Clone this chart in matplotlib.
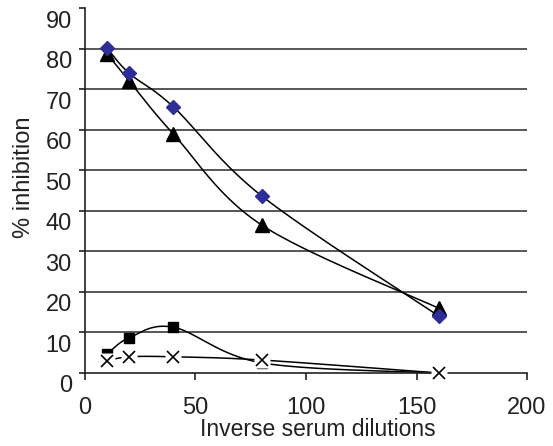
import numpy as np
import matplotlib
matplotlib.use("Agg")
import matplotlib.pyplot as plt
from matplotlib import font_manager
from matplotlib.transforms import ScaledTranslation

dilutions = [10, 20, 40, 80, 160]
diamond_vals = [80.2, 74.0, 65.7, 43.7, 14.1]
triangle_vals = [78.8, 72.1, 59.0, 36.5, 16.0]
square_vals = [4.7, 8.7, 11.3, 2.5, 0.0]
cross_vals = [3.0, 4.0, 4.0, 3.2, 0.0]
xticks = [0, 50, 100, 150, 200]
yticks = [0, 10, 20, 30, 40, 50, 60, 70, 80, 90]

names = {f.name for f in font_manager.fontManager.ttflist}
fam = ['Liberation Sans Narrow', 'Liberation Sans', 'DejaVu Sans']
fam = [f for f in fam if f in names] or ['DejaVu Sans']
plt.rcParams['font.family'] = fam


def smooth(ax, xs, ys, n=40):
    """Catmull-Rom curve through the data points (Excel-style smoothed line)."""
    p = ax.transData.transform(np.column_stack([xs, ys]))
    pts = np.vstack([p[0], p, p[-1]])
    out = []
    for i in range(1, len(pts) - 2):
        p0, p1, p2, p3 = pts[i - 1], pts[i], pts[i + 1], pts[i + 2]
        t = np.linspace(0, 1, n)[:, None]
        seg = 0.5 * ((2 * p1) + (-p0 + p2) * t + (2 * p0 - 5 * p1 + 4 * p2 - p3) * t ** 2
                     + (-p0 + 3 * p1 - 3 * p2 + p3) * t ** 3)
        out.append(seg)
    out = np.vstack(out)
    d = ax.transData.inverted().transform(out)
    return d[:, 0], d[:, 1]


fig = plt.figure(figsize=(5.53, 4.46), dpi=100)
ax = fig.add_axes([0.1537, 0.1637, 0.953 - 0.1537, 0.981 - 0.1637])
ax.set_xlim(0, 200)
ax.set_ylim(0, 90)
fig.canvas.draw()

for y in yticks[1:-1]:
    ax.axhline(y, color='#3a3a3a', lw=1.2, zorder=1)

for vals in [diamond_vals, triangle_vals, square_vals, cross_vals]:
    sx, sy = smooth(ax, dilutions, vals)
    ax.plot(sx, sy, color='black', lw=1.1, zorder=2, clip_on=False)

ax.plot(dilutions, square_vals, ls='none', marker='s', ms=7, color='black', zorder=3)
ax.plot(dilutions, triangle_vals, ls='none', marker='^', ms=9.5, color='black', zorder=3)
ax.plot(dilutions, diamond_vals, ls='none', marker='D', ms=7, color='#2e2e9a',
        markeredgecolor='#2e2e9a', zorder=4)
ax.plot(dilutions, cross_vals, ls='none', marker='s', ms=11, color='white',
        markeredgecolor='none', zorder=5, clip_on=False)
ax.plot(dilutions, cross_vals, ls='none', marker='x', ms=8, mew=1.2, color='black',
        zorder=6, clip_on=False)

ax.set_xticks(xticks)
ax.set_yticks(yticks)
ax.spines['top'].set_visible(False)
ax.spines['right'].set_visible(False)
for s in ['left', 'bottom']:
    ax.spines[s].set_linewidth(1.2)
    ax.spines[s].set_color('#222222')
ax.tick_params(axis='y', direction='out', length=4.5, width=1.2, labelsize=17, pad=5,
               colors='#222222')
ax.tick_params(axis='x', direction='out', length=5, width=1.2, labelsize=17, pad=12,
               colors='#222222')
shift = ScaledTranslation(0, -11 / 100, fig.dpi_scale_trans)
for lab in ax.get_yticklabels():
    lab.set_transform(lab.get_transform() + shift)
ax.set_xlabel('Inverse serum dilutions', fontsize=16.5, color='#222222')
ax.set_ylabel('% inhibition', fontsize=17, color='#222222')
ax.xaxis.set_label_coords(0.527, -0.124)
ax.yaxis.set_label_coords(-0.113, 0.536)

fig.savefig('out.png', dpi=100)
